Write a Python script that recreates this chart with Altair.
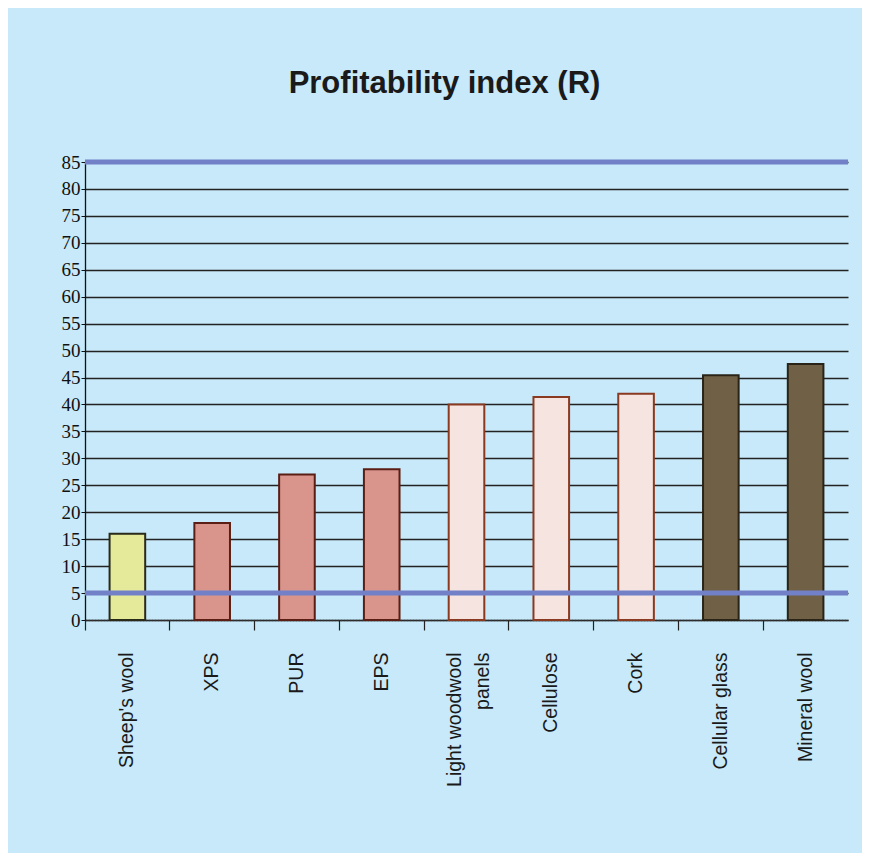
import altair as alt
import pandas as pd

categories = ["Sheep's wool", "XPS", "PUR", "EPS", "Light woodwool\npanels",
              "Cellulose", "Cork", "Cellular glass", "Mineral wool"]
values = [16.0, 18.0, 27.0, 28.0, 40.0, 41.4, 42.0, 45.4, 47.5]
groups = ["wool", "synth", "synth", "synth", "light", "light", "light", "dark", "dark"]
fill_colors = {"wool": "#E4EA9A", "synth": "#D9958C", "light": "#F6E4E0", "dark": "#6F6046"}
stroke_colors = {"wool": "#2A2A1A", "synth": "#5A1E14", "light": "#8A3A20", "dark": "#2A2418"}
reference_lines = [85, 5]
y_ticks = list(range(0, 90, 5))

df = pd.DataFrame({"cat": categories, "value": values, "group": groups})
df["fill"] = df["group"].map(fill_colors)
df["stroke"] = df["group"].map(stroke_colors)
ref_df = pd.DataFrame({"y": reference_lines})

x_enc = alt.X("cat:N", sort=categories,
              scale=alt.Scale(paddingInner=0, paddingOuter=0),
              axis=alt.Axis(title=None, labelAngle=-90, bandPosition=0,
                            labelPadding=22, tickSize=10,
                            tickColor="#222", tickWidth=1.2,
                            domainColor="#333", domainWidth=1.5, domainDash=[2, 1],
                            labelFont="Liberation Sans", labelFontSize=19.5,
                            labelColor="#1a1a1a", labelLineHeight=28,
                            labelExpr="split(datum.label, '\\n')",
                            labelOffset={"condition": {"test": "indexof(datum.value, 'panels') >= 0",
                                                       "value": -12}, "value": 0},
                            labelBaseline="middle", labelAlign="right", grid=False))

y_scale = alt.Scale(domain=[0, 85], nice=False)
y_axis = alt.Axis(title=None, values=y_ticks, grid=True, gridColor="#222222",
                  gridWidth=1.3, domainColor="#111", domainWidth=1.3,
                  tickSize=4, tickColor="#111", labelPadding=1,
                  labelOverlap=False,
                  labelFont="Liberation Serif", labelFontSize=19,
                  labelColor="#111")

bars = alt.Chart(df).mark_bar(width=alt.RelativeBandSize(0.42), strokeWidth=2).encode(
    x=x_enc,
    y=alt.Y("value:Q", scale=y_scale, axis=y_axis),
    fill=alt.Fill("fill:N", scale=None),
    stroke=alt.Stroke("stroke:N", scale=None),
)

refs = alt.Chart(ref_df).mark_rule(color="#7280C8", strokeWidth=5).encode(
    y=alt.Y("y:Q", scale=y_scale, axis=y_axis)
)

chart = alt.layer(bars, refs).properties(
    width=763, height=458,
    title=alt.TitleParams("Profitability index (R)", font="Liberation Sans",
                          fontSize=31, fontWeight="bold", color="#1a1a1a",
                          anchor="middle", dx=-22, offset=53),
    background="#C7E9F9",
    padding={"left": 77, "top": 154, "right": 14, "bottom": 233},
    autosize=alt.AutoSizeParams(type="none"),
).configure_view(stroke=None)

chart.save("out.html", embed_options={"renderer": "svg", "actions": False})
